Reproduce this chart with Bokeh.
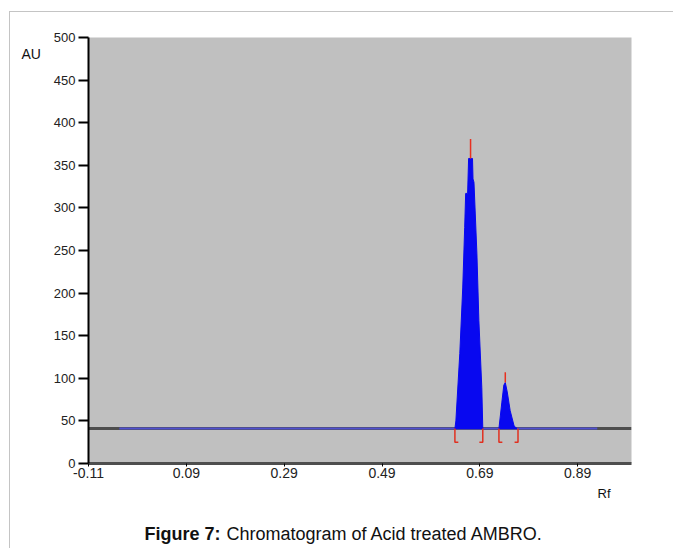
from bokeh.plotting import figure
from bokeh.models import Range1d, FixedTicker, Label, PrintfTickFormatter
from bokeh.embed import file_html
from bokeh.resources import INLINE

# ---- data ----
x_ticks = [-0.11, 0.09, 0.29, 0.49, 0.69, 0.89]
y_ticks = [0, 50, 100, 150, 200, 250, 300, 350, 400, 450, 500]
baseline_au = 41
trace_start = -0.047
trace_end = 0.93

peak1_rf = [0.639, 0.641, 0.649, 0.655, 0.659, 0.661, 0.665, 0.667, 0.671, 0.675,
            0.676, 0.678, 0.684, 0.688, 0.694, 0.696]
peak1_au = [41, 50, 129, 206, 277, 317, 317, 358, 358, 358,
            334, 330, 246, 168, 89, 41]

peak2_rf = [0.729, 0.735, 0.739, 0.742, 0.746, 0.752, 0.760, 0.766]
peak2_au = [41, 72, 92, 95, 84, 62, 44, 41]

apex_rf = [0.671, 0.742]
apex_au = [358, 95]
apex_mark_au = [381, 107]

peak_start_rf = [0.639, 0.729]
peak_end_rf = [0.696, 0.768]
bracket_low_au = 25

FONT = "Liberation Sans"

p = figure(width=664, height=537, output_backend="svg", toolbar_location=None,
           x_range=Range1d(-0.11, 1.0), y_range=Range1d(0, 500),
           min_border_left=78, min_border_right=43, min_border_top=25, min_border_bottom=86)
p.margin = (11, 0, 0, 9)
p.styles = {"border-left": "1px solid #c4c4c4", "border-top": "1px solid #c4c4c4"}
p.background_fill_color = "#c0c0c0"
p.border_fill_color = "white"
p.outline_line_color = None
p.grid.visible = False

# baseline (dark) and trace (blue)
p.line([-0.11, 1.0], [baseline_au, baseline_au], line_color="#4e4e4e", line_width=3)
p.line([trace_start, trace_end], [baseline_au, baseline_au], line_color="#5050d0", line_width=2)

# peaks
p.patch(peak1_rf, peak1_au, fill_color="#0808f0", line_color="#0808f0", line_width=1)
p.patch(peak2_rf, peak2_au, fill_color="#0808f0", line_color="#0808f0", line_width=1)

# apex markers
p.segment(x0=apex_rf, y0=apex_au, x1=apex_rf, y1=apex_mark_au, line_color="#e83020", line_width=1.5)

# integration brackets
tick_w = 0.007
xs, ys = [], []
for s, e in zip(peak_start_rf, peak_end_rf):
    xs.append([s + tick_w, s, s, s])
    ys.append([bracket_low_au, bracket_low_au, bracket_low_au, baseline_au])
    xs.append([e - tick_w, e, e, e])
    ys.append([bracket_low_au, bracket_low_au, bracket_low_au, baseline_au])
p.multi_line(xs, ys, line_color="#e03020", line_width=1.5)

# axes
xa = p.xaxis[0]
xa.ticker = FixedTicker(ticks=x_ticks)
xa.formatter = PrintfTickFormatter(format="%.2f")
xa.axis_line_color = "#4e4e4e"
xa.axis_line_width = 3
xa.major_tick_line_color = "black"
xa.major_tick_in = 0
xa.major_tick_out = 3
xa.minor_tick_line_color = None
xa.major_label_standoff = 1
xa.major_label_text_font = FONT
xa.major_label_text_font_size = "14px"
xa.major_label_text_color = "#222222"

ya = p.yaxis[0]
ya.ticker = FixedTicker(ticks=y_ticks)
ya.axis_line_color = "black"
ya.axis_line_width = 2
ya.major_tick_line_color = "black"
ya.major_tick_line_width = 2
ya.major_tick_in = 0
ya.major_tick_out = 10
ya.minor_tick_line_color = None
ya.major_label_standoff = 3
ya.major_label_text_font = FONT
ya.major_label_text_font_size = "13px"
ya.major_label_text_color = "#222222"

# text labels (canvas pixel units), placed in side panels
def lab(x, y, text, size, side, bold=False):
    p.add_layout(Label(x=x, y=y, x_units="canvas", y_units="canvas", text=text,
                       text_font=FONT, text_font_size=size,
                       text_font_style="bold" if bold else "normal",
                       text_color="#111111", text_baseline="middle", text_align="left"), side)

lab(10, 40, "AU", "14px", "left")
lab(586, 480, "Rf", "13px", "below")
lab(133, 520, "Figure 7:", "18px", "below", bold=True)
lab(215, 520, "Chromatogram of Acid treated AMBRO.", "18px", "below")

open("out.html", "w").write(file_html(p, INLINE))
